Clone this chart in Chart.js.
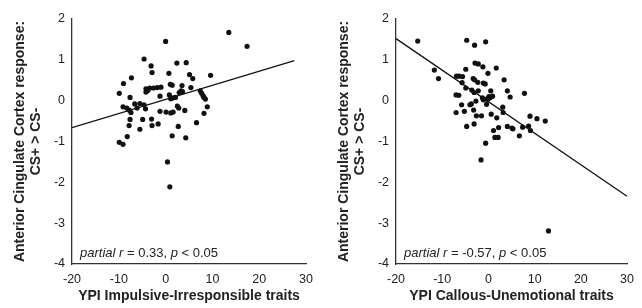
<!DOCTYPE html>
<html>
<head>
<meta charset="utf-8">
<script src="https://cdn.jsdelivr.net/npm/chart.js@4"></script>
<style>
  body { margin: 0; background: #fff; }
  #wrap { position: relative; width: 642px; height: 308px; }
  canvas { position: absolute; top: 0; }
  #leftChart { left: 0; }
  #rightChart { left: 324px; }
</style>
</head>
<body>
<div id="wrap">
  <canvas id="leftChart" width="321" height="308"></canvas>
  <canvas id="rightChart" width="318" height="308"></canvas>
</div>
<script>
// left panel: impulsive-irresponsible
let impX = [0.0, 13.5, 17.4, -4.6, -3.1, -2.9, 2.4, 4.4, 0.7, 5.1, 5.8, 9.6, -7.3, -9.0, -9.9, -7.6,
  -4.2, -3.8, -3.4, -2.6, -1.8, -1.0, -4.2, 1.0, 1.4, 3.5, 5.4, 7.4, 7.7, 8.0, 8.2, 8.5,
  0.8, -1.2, 2.9, 3.3, 3.6, 1.1, 1.6, 2.1, -9.1, -8.3, -7.8, -7.4, -6.6, -6.1, -5.5, -4.6,
  -4.3, -1.2, 0.1, 1.1, 1.6, 2.5, 2.8, 4.1, 8.9, 8.2, -7.6, -4.9, -3.0, -7.8, -2.9, -1.6,
  -5.5, 2.7, 6.6, -8.2, 1.4, 4.3, -9.9, -9.1, 0.4, 0.9];
let impY = [1.45, 1.67, 1.33, 1.02, 0.85, 0.69, 0.92, 0.93, 0.67, 0.64, 0.54, 0.62, 0.56, 0.42, 0.18, 0.08,
  0.29, 0.25, 0.31, 0.31, 0.32, 0.33, 0.21, 0.40, 0.38, 0.37, 0.32, 0.24, 0.18, 0.12, 0.08, 0.04,
  0.14, 0.11, 0.20, 0.24, 0.22, 0.05, 0.07, 0.08, -0.15, -0.18, -0.23, -0.29, -0.08, -0.18, -0.07, -0.10,
  -0.20, -0.26, -0.28, -0.30, -0.28, -0.13, -0.18, -0.24, -0.15, -0.31, -0.46, -0.46, -0.45, -0.61, -0.61, -0.57,
  -0.70, -0.63, -0.54, -0.88, -0.86, -0.91, -1.02, -1.07, -1.50, -2.11];
let impFitX = [-20, 27.5];
let impFitY = [-0.66, 0.98];

// right panel: callous-unemotional
let cuX = [-15.3, -4.7, -3.0, -0.6, -11.7, -10.8, -2.9, -2.2, -1.2, -4.9, 1.7, -0.1, -6.9, -6.4, -5.6, -3.3,
  -3.0, -2.3, -1.1, -0.7, 3.4, -5.7, -4.9, -3.6, -2.2, 0.5, 4.1, 7.8, 4.7, -7.0, -6.4, -3.1,
  -2.7, -1.3, -1.1, -0.4, 0.1, 0.4, 0.9, 0.0, -5.8, -4.0, -3.7, -0.4, -7.0, -5.2, -3.2, -2.6,
  -1.5, 0.6, 3.1, 3.2, 1.8, 9.0, 10.5, 12.3, -4.7, -3.1, 1.1, 2.2, 4.1, 5.1, 5.3, 7.4,
  8.7, 9.1, 1.4, 2.1, 6.7, -0.6, -1.6, 13.0];
let cuY = [1.46, 1.48, 1.36, 1.44, 0.75, 0.54, 0.92, 0.90, 0.83, 0.77, 0.80, 0.67, 0.60, 0.60, 0.59, 0.54,
  0.51, 0.45, 0.43, 0.41, 0.51, 0.44, 0.31, 0.26, 0.24, 0.24, 0.24, 0.18, 0.09, 0.14, 0.13, 0.20,
  -0.01, 0.07, 0.02, 0.04, 0.10, 0.08, 0.11, 0.05, -0.10, -0.10, -0.08, -0.09, -0.29, -0.26, -0.23, -0.37,
  -0.37, -0.33, -0.16, -0.29, -0.42, -0.38, -0.44, -0.50, -0.63, -0.57, -0.73, -0.66, -0.63, -0.67, -0.69, -0.65,
  -0.62, -0.73, -0.90, -0.90, -0.86, -1.04, -1.45, -3.19];
let cuFitX = [-20, 30];
let cuFitY = [1.52, -2.34];

let xTicks = [-20, -10, 0, 10, 20, 30];
let yTicks = [-4, -3, -2, -1, 0, 1, 2];
let yTitle = ["Anterior Cingulate Cortex response:", "CS+ > CS-"];

let fontFamily = "'Liberation Sans', Arial, Helvetica, sans-serif";
let textColor = "#222";

function toPoints(xs, ys) {
  let pts = [];
  for (let i = 0; i < xs.length; i++) {
    pts.push({ x: xs[i], y: ys[i] });
  }
  return pts;
}

// draws "partial r = ..., p < 0.05" with italic letters
let statsLabel = {
  id: "statsLabel",
  afterDraw(chart, args, opts) {
    let ctx = chart.ctx;
    let area = chart.chartArea;
    let x = area.left + 8;
    let y = area.bottom - 11;
    ctx.save();
    ctx.fillStyle = textColor;
    ctx.textBaseline = "middle";
    ctx.textAlign = "left";
    for (let part of opts.parts) {
      ctx.font = (part[1] ? "italic " : "") + "13px " + fontFamily;
      ctx.fillText(part[0], x, y);
      x += ctx.measureText(part[0]).width;
    }
    ctx.restore();
  },
};

function createChart(canvas, xs, ys, fitX, fitY, xTitle, rText) {
  return new Chart(canvas, {
    type: "scatter",
    data: {
      datasets: [
        {
          data: toPoints(xs, ys),
          backgroundColor: "#111",
          borderColor: "#111",
          pointRadius: 2.6,
          borderWidth: 0,
        },
        {
          data: toPoints(fitX, fitY),
          showLine: true,
          borderColor: "#111",
          borderWidth: 1.3,
          pointRadius: 0,
        },
      ],
    },
    plugins: [statsLabel],
    options: {
      responsive: false,
      animation: false,
      layout: { padding: { top: 19, right: 14, left: 0, bottom: 0 } },
      plugins: {
        legend: { display: false },
        tooltip: { enabled: false },
        statsLabel: {
          parts: [["partial", true], [" ", false], ["r", true], [" = " + rText + ", ", false], ["p", true], [" < 0.05", false]],
        },
      },
      scales: {
        x: {
          type: "linear",
          min: -20,
          max: 30,
          afterBuildTicks: (s) => { s.ticks = xTicks.map((v) => ({ value: v })); },
          afterFit: (s) => { s.height = 44; },
          grid: { display: false, drawTicks: false },
          border: { color: "#333", width: 1.3 },
          ticks: { padding: 8, color: textColor, font: { family: fontFamily, size: 12.5 } },
          title: {
            display: true,
            text: xTitle,
            color: textColor,
            padding: { top: 0, bottom: 4 },
            font: { family: fontFamily, size: 14, weight: "bold", lineHeight: 1.15 },
          },
        },
        y: {
          type: "linear",
          min: -4,
          max: 2,
          afterBuildTicks: (s) => { s.ticks = yTicks.map((v) => ({ value: v })); },
          afterFit: (s) => { s.width = 72; },
          grid: { display: false, drawTicks: false },
          border: { color: "#333", width: 1.3 },
          ticks: { padding: 7, color: textColor, font: { family: fontFamily, size: 12.5 } },
          title: {
            display: true,
            text: yTitle,
            color: textColor,
            padding: { top: 12, bottom: 0 },
            font: { family: fontFamily, size: 14, weight: "bold", lineHeight: 1.15 },
          },
        },
      },
    },
  });
}

createChart(document.getElementById("leftChart"), impX, impY, impFitX, impFitY,
  "YPI Impulsive-Irresponsible traits", "0.33");
createChart(document.getElementById("rightChart"), cuX, cuY, cuFitX, cuFitY,
  "YPI Callous-Unemotional traits", "-0.57");
</script>
</body>
</html>
